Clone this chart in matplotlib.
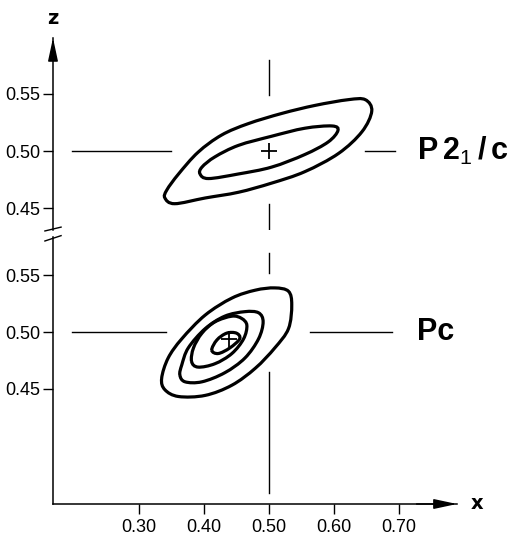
import numpy as np
import matplotlib.pyplot as plt
from matplotlib.path import Path
from matplotlib.patches import PathPatch

# x ticks shared by both panels
x_ticks = [0.30, 0.40, 0.50, 0.60, 0.70]
x_ticklabels = ["0.30", "0.40", "0.50", "0.60", "0.70"]
z_ticks = [0.45, 0.50, 0.55]
z_ticklabels = ["0.45", "0.50", "0.55"]

# P2_1/c panel: contour lines (x, z)
p21c_outer_x = [0.340, 0.355, 0.402, 0.453, 0.504, 0.555, 0.607, 0.643, 0.658,
                0.648, 0.622, 0.571, 0.520, 0.468, 0.427, 0.391, 0.361, 0.343]
p21c_outer_z = [0.459, 0.454, 0.459, 0.464, 0.472, 0.482, 0.498, 0.517, 0.535,
                0.545, 0.545, 0.540, 0.533, 0.524, 0.514, 0.499, 0.480, 0.466]
p21c_inner_x = [0.394, 0.407, 0.453, 0.504, 0.555, 0.591, 0.606, 0.597, 0.555,
                0.504, 0.453, 0.417, 0.397]
p21c_inner_z = [0.480, 0.476, 0.480, 0.486, 0.497, 0.508, 0.518, 0.522, 0.520,
                0.513, 0.505, 0.495, 0.486]
p21c_centre = (0.50, 0.50)

# Pc panel: four contour lines
pc_c1_x = [0.335, 0.340, 0.361, 0.402, 0.443, 0.479, 0.509, 0.530, 0.535, 0.530,
           0.509, 0.479, 0.443, 0.402, 0.366, 0.345]
pc_c1_z = [0.459, 0.449, 0.443, 0.444, 0.453, 0.468, 0.486, 0.503, 0.524, 0.536,
           0.539, 0.537, 0.530, 0.515, 0.494, 0.477]
pc_c2_x = [0.363, 0.371, 0.397, 0.432, 0.463, 0.484, 0.491, 0.484, 0.463, 0.432,
           0.402, 0.376, 0.366]
pc_c2_z = [0.462, 0.456, 0.456, 0.464, 0.477, 0.494, 0.509, 0.517, 0.518, 0.514,
           0.503, 0.486, 0.471]
pc_c3_x = [0.381, 0.391, 0.417, 0.443, 0.461, 0.466, 0.458, 0.443, 0.417, 0.397, 0.384]
pc_c3_z = [0.474, 0.469, 0.472, 0.481, 0.494, 0.506, 0.512, 0.514, 0.509, 0.499, 0.486]
pc_c4_x = [0.412, 0.422, 0.440, 0.455, 0.450, 0.435, 0.420]
pc_c4_z = [0.484, 0.481, 0.486, 0.494, 0.499, 0.499, 0.493]
pc_centre = (0.438, 0.494)

# reference lines (pieces of x = 0.50 and z = 0.50 left visible)
p21c_vline = [(0.580, 0.549), (0.454, 0.432)]
p21c_hline = [(0.197, 0.349), (0.648, 0.694)]
pc_vline = [(0.570, 0.552), (0.465, 0.358)]
pc_hline = [(0.197, 0.342), (0.563, 0.689)]

plt.rcParams["mathtext.fontset"] = "custom"
plt.rcParams["mathtext.rm"] = "Liberation Sans"
plt.rcParams["mathtext.bf"] = "Liberation Sans:bold"


def closed_curve(xs, zs):
    # smooth closed curve through the points (cubic bezier pieces)
    pts = np.column_stack([xs, zs])
    n = len(pts)
    verts = [pts[0]]
    codes = [Path.MOVETO]
    for i in range(n):
        p0, p1 = pts[i - 1], pts[i]
        p2, p3 = pts[(i + 1) % n], pts[(i + 2) % n]
        verts += [p1 + (p2 - p0) / 6, p2 - (p3 - p1) / 6, p2]
        codes += [Path.CURVE4] * 3
    return Path(verts, codes)


def setup(ax):
    ax.set_xlim(0.168, 0.789)
    for s in ["top", "right"]:
        ax.spines[s].set_visible(False)
    ax.spines["left"].set_linewidth(1.1)
    ax.spines["bottom"].set_linewidth(1.1)
    ax.set_yticks(z_ticks)
    ax.set_yticklabels(z_ticklabels, family="Liberation Sans", fontstretch="condensed",
                       fontsize=13)
    ax.tick_params(axis="y", direction="out", length=7, width=1, pad=2)
    ax.set_facecolor("none")


fig = plt.figure(figsize=(5.11, 5.38), dpi=100)
ax_bot = fig.add_axes([0.1037, 0.0632, 0.7906, 0.4963])
ax_top = fig.add_axes([0.1037, 0.5725, 0.7906, 0.357])

setup(ax_top)
setup(ax_bot)
ax_top.set_ylim(0.431, 0.599)
ax_bot.set_ylim(0.348, 0.584)

ax_top.spines["bottom"].set_visible(False)
ax_top.set_xticks([])
ax_bot.set_xticks(x_ticks)
ax_bot.set_xticklabels(x_ticklabels, family="Liberation Sans", fontstretch="condensed",
                       fontsize=13)
ax_bot.tick_params(axis="x", direction="out", length=7, width=1, pad=4)

# contours
for xs, zs in [(p21c_outer_x, p21c_outer_z), (p21c_inner_x, p21c_inner_z)]:
    ax_top.add_patch(PathPatch(closed_curve(xs, zs), fill=False, lw=2.3, color="black"))
for xs, zs in [(pc_c1_x, pc_c1_z), (pc_c2_x, pc_c2_z), (pc_c3_x, pc_c3_z), (pc_c4_x, pc_c4_z)]:
    ax_bot.add_patch(PathPatch(closed_curve(xs, zs), fill=False, lw=2.3, color="black"))

ax_top.plot(*p21c_centre, marker="+", ms=11, mew=1.3, color="black")
ax_bot.plot(*pc_centre, marker="+", ms=11, mew=1.3, color="black")

# reference lines
for ax, vl, hl in [(ax_top, p21c_vline, p21c_hline), (ax_bot, pc_vline, pc_hline)]:
    for z0, z1 in vl:
        ax.plot([0.50, 0.50], [z0, z1], color="black", lw=1.0)
    for x0, x1 in hl:
        ax.plot([x0, x1], [0.50, 0.50], color="black", lw=1.0)

# labels of the two space groups
ax_top.text(0.728, 0.50, r"$\mathbf{P\,2}_{\mathrm{1}}\,\mathbf{/\,c}$", fontsize=22,
            va="center", ha="left")
ax_bot.text(0.727, 0.50, "Pc", fontsize=22, fontweight="bold",
            family="Liberation Sans", va="center", ha="left")

# axis arrows and names
ax_top.annotate("", xy=(0, 1), xytext=(0, 0.9), xycoords="axes fraction",
                arrowprops=dict(arrowstyle="-|>,head_length=1.4,head_width=0.3",
                                color="black", lw=1.1, shrinkA=0, shrinkB=0))
ax_bot.annotate("", xy=(1, 0), xytext=(0.9, 0), xycoords="axes fraction",
                arrowprops=dict(arrowstyle="-|>,head_length=1.4,head_width=0.3",
                                color="black", lw=1.1, shrinkA=0, shrinkB=0))
ax_top.text(0, 1.10, "z", transform=ax_top.transAxes, fontsize=14,
            fontweight="bold", ha="center", va="center")
ax_bot.text(1.05, 0, "x", transform=ax_bot.transAxes, fontsize=14,
            fontweight="bold", ha="center", va="center")

# axis break marks
ax_top.plot([-0.02, 0.02], [-0.005, 0.015], transform=ax_top.transAxes,
            color="black", lw=1.0, clip_on=False)
ax_bot.plot([-0.02, 0.02], [0.985, 1.005], transform=ax_bot.transAxes,
            color="black", lw=1.0, clip_on=False)

fig.savefig("out.png", dpi=100)
